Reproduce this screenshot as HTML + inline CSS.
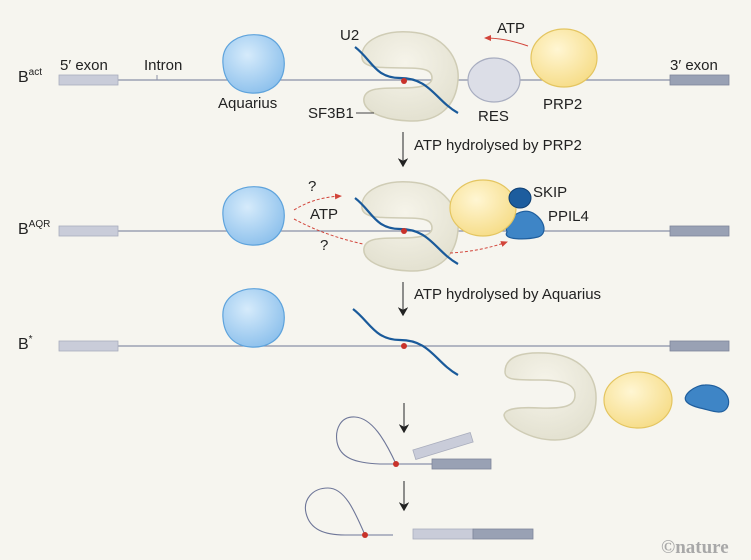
<!DOCTYPE html>
<html><head><meta charset="utf-8"><style>
html,body{margin:0;padding:0;background:#f6f5ef;}
svg{display:block;font-family:"Liberation Sans",sans-serif;}
</style></head><body>
<svg width="751" height="560" viewBox="0 0 751 560" xmlns="http://www.w3.org/2000/svg">
<defs>
<marker id="ah" markerWidth="8" markerHeight="8" refX="6" refY="4" orient="auto"><path d="M0,0 L7,4 L0,8 L2,4Z" fill="#222"/></marker>
<marker id="rh" markerWidth="8" markerHeight="8" refX="6" refY="4" orient="auto"><path d="M0,1 L7,4 L0,7Z" fill="#d2443a"/></marker>
<radialGradient id="gb" cx="40%" cy="35%" r="70%"><stop offset="0" stop-color="#d6ebfb"/><stop offset="1" stop-color="#8cc0ec"/></radialGradient>
<radialGradient id="gy" cx="40%" cy="35%" r="70%"><stop offset="0" stop-color="#fff6d3"/><stop offset="1" stop-color="#f6dc86"/></radialGradient>
<radialGradient id="gc" cx="45%" cy="35%" r="70%"><stop offset="0" stop-color="#f6f4ea"/><stop offset="1" stop-color="#e2e0cf"/></radialGradient>
<g id="cshape"><path d="M362,58 C360,40 385,30 410,32 C445,34 460,60 458,80 C456,105 440,122 410,121 C380,120 362,110 364,98 C366,88 380,88 400,88 C425,88 432,84 432,78 C432,70 425,68 405,68 C380,68 363,68 362,58 Z" fill="url(#gc)" stroke="#cfccb5" stroke-width="1.5"/></g>
<g id="aqr"><path d="M-30,0 C-32,-22 -12,-31 6,-29 C24,-27 33,-12 31,4 C29,22 14,30 -2,29 C-20,28 -29,16 -30,0Z" fill="url(#gb)" stroke="#5ea3dc" stroke-width="1.2"/></g>
</defs>

<line x1="59" y1="80" x2="729" y2="80" stroke="#8a90a6" stroke-width="1.2"/>
<rect x="59" y="75" width="59" height="10" fill="#c9ccd9" stroke="#a9adbd" stroke-width="0.8"/>
<rect x="670" y="75" width="59" height="10" fill="#99a1b4" stroke="#7e869a" stroke-width="0.8"/>
<line x1="157" y1="75" x2="157" y2="80" stroke="#8a90a6"/>
<text x="18" y="82" font-size="16" fill="#222">B<tspan font-size="10" dy="-7">act</tspan></text>
<text x="60" y="70" font-size="15" fill="#222">5′ exon</text>
<text x="144" y="70" font-size="15" fill="#222">Intron</text>
<text x="670" y="70" font-size="15" fill="#222">3′ exon</text>
<use href="#aqr" x="253" y="64"/>
<text x="218" y="108" font-size="15" fill="#222">Aquarius</text>
<use href="#cshape"/>
<path d="M355,47 C372,60 375,78 400,78 C430,78 435,100 458,113" fill="none" stroke="#1a5a9a" stroke-width="2.2"/>
<circle cx="404" cy="81" r="3" fill="#c8322a"/>
<text x="340" y="40" font-size="15" fill="#222">U2</text>
<text x="308" y="118" font-size="15" fill="#222">SF3B1</text>
<line x1="356" y1="113" x2="374" y2="113" stroke="#444"/>
<ellipse cx="494" cy="80" rx="26" ry="22" fill="#dcdee7" stroke="#a8adc0" stroke-width="1.2"/>
<text x="478" y="121" font-size="15" fill="#222">RES</text>
<ellipse cx="564" cy="58" rx="33" ry="29" fill="url(#gy)" stroke="#e4c560" stroke-width="1.2"/>
<text x="543" y="109" font-size="15" fill="#222">PRP2</text>
<text x="497" y="33" font-size="15" fill="#222">ATP</text>
<path d="M528,46 C510,40 498,38 485,38" fill="none" stroke="#d2443a" stroke-width="1" marker-end="url(#rh)"/>

<line x1="403" y1="132" x2="403" y2="166" stroke="#555" stroke-width="1.3" marker-end="url(#ah)"/>
<text x="414" y="150" font-size="15" fill="#222">ATP hydrolysed by PRP2</text>

<line x1="59" y1="231" x2="729" y2="231" stroke="#8a90a6" stroke-width="1.2"/>
<rect x="59" y="226" width="59" height="10" fill="#c9ccd9" stroke="#a9adbd" stroke-width="0.8"/>
<rect x="670" y="226" width="59" height="10" fill="#99a1b4" stroke="#7e869a" stroke-width="0.8"/>
<text x="18" y="234" font-size="16" fill="#222">B<tspan font-size="10" dy="-7">AQR</tspan></text>
<use href="#aqr" x="253" y="216"/>
<use href="#cshape" y="150"/>
<path d="M355,198 C372,211 375,229 400,229 C430,229 435,251 458,264" fill="none" stroke="#1a5a9a" stroke-width="2.2"/>
<circle cx="404" cy="231" r="3" fill="#c8322a"/>
<path d="M507,232 C502,240 525,240 538,237 C548,234 545,220 533,213 C524,208 512,214 505,225Z" fill="#3e85c6" stroke="#1f5e9d" stroke-width="1.2"/>
<ellipse cx="483" cy="208" rx="33" ry="28" fill="url(#gy)" stroke="#e4c560" stroke-width="1.2"/>
<ellipse cx="520" cy="198" rx="11" ry="10" fill="#1d5d9e" stroke="#0f3f72" stroke-width="1"/>
<text x="533" y="197" font-size="15" fill="#222">SKIP</text>
<text x="548" y="221" font-size="15" fill="#222">PPIL4</text>
<text x="308" y="191" font-size="15" fill="#222">?</text>
<text x="310" y="219" font-size="15" fill="#222">ATP</text>
<text x="320" y="250" font-size="15" fill="#222">?</text>
<path d="M294,210 C310,200 325,197 341,196" fill="none" stroke="#d2443a" stroke-width="1" stroke-dasharray="3,2" marker-end="url(#rh)"/>
<path d="M294,219 C320,233 345,240 363,244" fill="none" stroke="#d2443a" stroke-width="1" stroke-dasharray="3,2"/>
<path d="M450,253 C470,252 490,248 507,242" fill="none" stroke="#d2443a" stroke-width="1" stroke-dasharray="3,2" marker-end="url(#rh)"/>

<line x1="403" y1="282" x2="403" y2="315" stroke="#555" stroke-width="1.3" marker-end="url(#ah)"/>
<text x="414" y="299" font-size="15" fill="#222">ATP hydrolysed by Aquarius</text>

<line x1="59" y1="346" x2="729" y2="346" stroke="#8a90a6" stroke-width="1.2"/>
<rect x="59" y="341" width="59" height="10" fill="#c9ccd9" stroke="#a9adbd" stroke-width="0.8"/>
<rect x="670" y="341" width="59" height="10" fill="#99a1b4" stroke="#7e869a" stroke-width="0.8"/>
<text x="18" y="349" font-size="16" fill="#222">B<tspan font-size="10" dy="-7">*</tspan></text>
<use href="#aqr" x="253" y="318"/>
<path d="M353,309 C370,322 375,340 400,340 C430,340 435,362 458,375" fill="none" stroke="#1a5a9a" stroke-width="2.2"/>
<circle cx="404" cy="346" r="3" fill="#c8322a"/>
<path d="M505,372 C505,355 525,352 545,353 C580,355 597,375 596,400 C595,425 580,440 555,440 C530,440 505,425 504,415 C505,408 520,407 540,408 C567,409 575,405 575,395 C575,385 565,380 540,380 C515,380 505,380 505,372Z" fill="url(#gc)" stroke="#cfccb5" stroke-width="1.5"/>
<ellipse cx="638" cy="400" rx="34" ry="28" fill="url(#gy)" stroke="#e4c560" stroke-width="1.2"/>
<path d="M686,401 C682,395 695,385 705,385 C722,384 733,398 727,408 C722,416 710,410 700,408 C692,406 688,404 686,401Z" fill="#3e85c6" stroke="#1f5e9d" stroke-width="1.2"/>

<line x1="404" y1="403" x2="404" y2="432" stroke="#555" stroke-width="1.3" marker-end="url(#ah)"/>
<path d="M396,464 C385,440 372,418 355,417 C340,416 335,430 337,442 C340,458 355,463 380,464 L432,464" fill="none" stroke="#6e7698" stroke-width="1.1"/>
<circle cx="396" cy="464" r="3" fill="#c8322a"/>
<rect x="432" y="459" width="59" height="10" fill="#99a1b4" stroke="#7e869a" stroke-width="0.8"/>
<rect x="413" y="441" width="60" height="10" fill="#c9ccd9" stroke="#a9adbd" stroke-width="0.8" transform="rotate(-17 443 446)"/>

<line x1="404" y1="481" x2="404" y2="510" stroke="#555" stroke-width="1.3" marker-end="url(#ah)"/>
<path d="M365,535 C355,512 345,488 328,488 C312,488 303,500 306,513 C310,530 325,535 345,535 L393,535" fill="none" stroke="#6e7698" stroke-width="1.1"/>
<circle cx="365" cy="535" r="3" fill="#c8322a"/>
<rect x="413" y="529" width="60" height="10" fill="#c9ccd9" stroke="#a9adbd" stroke-width="0.8"/>
<rect x="473" y="529" width="60" height="10" fill="#99a1b4" stroke="#7e869a" stroke-width="0.8"/>

<text x="661" y="553" font-size="19" font-weight="bold" font-family="Liberation Serif,serif" fill="#a8a8a8">©nature</text>
</svg>
</body></html>
